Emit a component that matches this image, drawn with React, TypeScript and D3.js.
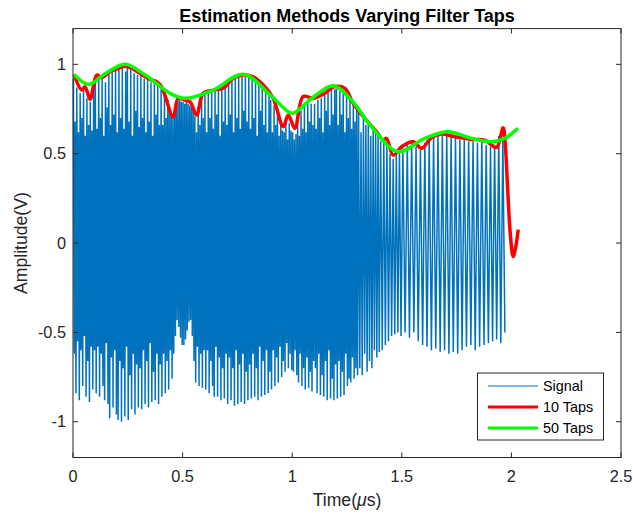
import React from "react";
import * as d3 from "d3";

// ---------- data ----------
const xTicks = [0, 0.5, 1, 1.5, 2, 2.5];
const yTicks = [-1, -0.5, 0, 0.5, 1];
const xDomain = [0, 2.5];
const yDomain = [-1.2, 1.2];

// Signal: carrier cycles grouped in 0.1 us segments; each entry is a cycle's peak / trough
const segmentStarts = [0, 0.1, 0.2, 0.3, 0.4, 0.5, 0.6, 0.7, 0.8, 0.9, 1.0, 1.1, 1.2, 1.3, 1.4, 1.5, 1.6, 1.7, 1.8, 1.9];
const signalEnd = 1.975;
const segmentPeaks: number[][] = [
  [0.92, 0.68, 0.87, 0.62, 0.84, 0.7, 0.86, 0.6, 0.81, 0.66, 0.79, 0.63, 0.89],
  [0.91, 0.64, 0.93, 0.7, 0.92, 0.6, 0.9, 0.76, 0.95, 0.66, 0.96, 0.72, 0.97],
  [0.62, 0.98, 0.7, 0.99, 0.64, 0.96, 0.99, 0.68, 0.97, 0.6, 0.95, 0.74, 0.94],
  [0.65, 0.94, 0.7, 0.92, 0.62, 0.93, 0.68, 0.9, 0.6, 0.91, 0.72, 0.89, 0.66],
  [0.86, 0.66, 0.84, 0.7, 0.8, 0.74, 0.72, 0.7, 0.74, 0.78, 0.79, 0.8, 0.79],
  [0.79, 0.78, 0.79, 0.78, 0.77, 0.76, 0.74, 0.71, 0.62, 0.76, 0.66, 0.82, 0.7],
  [0.84, 0.62, 0.85, 0.7, 0.86, 0.64, 0.85, 0.72, 0.86, 0.6, 0.87, 0.68, 0.88],
  [0.66, 0.89, 0.72, 0.91, 0.62, 0.92, 0.7, 0.93, 0.64, 0.94, 0.74, 0.93, 0.68],
  [0.93, 0.64, 0.92, 0.7, 0.9, 0.6, 0.89, 0.74, 0.87, 0.66, 0.85, 0.62, 0.83],
  [0.8, 0.62, 0.77, 0.66, 0.73, 0.6, 0.68, 0.63, 0.62, 0.69, 0.58, 0.67, 0.63],
  [0.62, 0.58, 0.61, 0.66, 0.6, 0.74, 0.64, 0.78, 0.62, 0.79, 0.68, 0.78, 0.66],
  [0.78, 0.64, 0.8, 0.7, 0.81, 0.62, 0.83, 0.74, 0.84, 0.66, 0.86, 0.72, 0.86],
  [0.86, 0.66, 0.85, 0.72, 0.84, 0.62, 0.82, 0.7, 0.8, 0.64, 0.78, 0.68, 0.75],
  [0.74, 0.62, 0.7, 0.66, 0.68, 0.6, 0.64, 0.62, 0.6],
  [0.57, 0.56, 0.55, 0.5, 0.47, 0.5, 0.52],
  [0.53, 0.55, 0.56, 0.54, 0.52],
  [0.56, 0.58, 0.6, 0.61, 0.6],
  [0.61, 0.6, 0.59, 0.58, 0.58],
  [0.57, 0.57, 0.56, 0.57, 0.55],
  [0.54, 0.55, 0.6, 0.58],
];
const segmentTroughs: number[][] = [
  [-0.62, -0.84, -0.55, -0.88, -0.6, -0.8, -0.52, -0.86, -0.66, -0.89, -0.58, -0.82, -0.6],
  [-0.84, -0.58, -0.86, -0.62, -0.8, -0.88, -0.56, -0.9, -0.98, -0.64, -0.92, -0.6, -0.96],
  [-0.99, -0.66, -1.0, -0.7, -0.97, -0.58, -0.99, -0.74, -0.93, -0.62, -0.96, -0.68, -0.92],
  [-0.7, -0.93, -0.6, -0.9, -0.66, -0.92, -0.56, -0.89, -0.72, -0.88, -0.62, -0.9, -0.68],
  [-0.86, -0.62, -0.84, -0.66, -0.82, -0.6, -0.76, -0.62, -0.52, -0.43, -0.47, -0.53, -0.57],
  [-0.57, -0.54, -0.49, -0.44, -0.43, -0.52, -0.66, -0.78, -0.58, -0.8, -0.62, -0.81, -0.6],
  [-0.82, -0.6, -0.84, -0.66, -0.8, -0.86, -0.58, -0.86, -0.64, -0.88, -0.7, -0.87, -0.62],
  [-0.9, -0.64, -0.88, -0.7, -0.91, -0.6, -0.9, -0.68, -0.89, -0.62, -0.9, -0.72, -0.88],
  [-0.68, -0.87, -0.62, -0.86, -0.7, -0.88, -0.58, -0.86, -0.66, -0.85, -0.6, -0.84, -0.72],
  [-0.82, -0.6, -0.8, -0.64, -0.78, -0.58, -0.75, -0.66, -0.72, -0.56, -0.7, -0.62, -0.71],
  [-0.72, -0.6, -0.74, -0.78, -0.62, -0.8, -0.7, -0.82, -0.64, -0.81, -0.72, -0.83, -0.66],
  [-0.7, -0.84, -0.62, -0.85, -0.74, -0.86, -0.66, -0.88, -0.6, -0.87, -0.76, -0.88, -0.68],
  [-0.87, -0.66, -0.86, -0.72, -0.85, -0.62, -0.8, -0.76, -0.78, -0.64, -0.76, -0.7, -0.74],
  [-0.7, -0.74, -0.62, -0.72, -0.66, -0.7, -0.6, -0.64, -0.61],
  [-0.6, -0.57, -0.55, -0.52, -0.51, -0.5, -0.52],
  [-0.5, -0.53, -0.5, -0.55, -0.57],
  [-0.58, -0.6, -0.59, -0.61, -0.6],
  [-0.62, -0.61, -0.62, -0.6, -0.58],
  [-0.57, -0.6, -0.58, -0.57, -0.56],
  [-0.55, -0.54, -0.56, -0.5],
];

// 10-tap estimate
const taps10T = [0.005, 0.04, 0.055, 0.078, 0.108, 0.131, 0.169, 0.207, 0.237, 0.268, 0.305, 0.359, 0.382, 0.404, 0.457, 0.48, 0.51, 0.534, 0.564, 0.594, 0.64, 0.685, 0.731, 0.777, 0.822, 0.868, 0.913, 0.959, 0.982, 1.012, 1.05, 1.096, 1.149, 1.19, 1.24, 1.278, 1.331, 1.385, 1.415, 1.43, 1.461, 1.499, 1.552, 1.59, 1.636, 1.681, 1.742, 1.818, 1.879, 1.932, 1.962, 1.972, 1.983, 1.995, 2.008, 2.02, 2.031];
const taps10V = [0.944, 0.856, 0.875, 0.804, 0.94, 0.927, 0.959, 0.978, 0.99, 0.978, 0.95, 0.912, 0.903, 0.875, 0.707, 0.81, 0.8, 0.79, 0.716, 0.838, 0.856, 0.866, 0.922, 0.94, 0.93, 0.884, 0.81, 0.651, 0.716, 0.642, 0.82, 0.81, 0.838, 0.875, 0.866, 0.782, 0.698, 0.623, 0.576, 0.586, 0.492, 0.539, 0.567, 0.53, 0.591, 0.61, 0.595, 0.58, 0.576, 0.535, 0.645, 0.55, 0.3, 0.05, -0.075, -0.02, 0.075];

// 50-tap estimate
const taps50T = [0.005, 0.07, 0.15, 0.237, 0.33, 0.442, 0.51, 0.64, 0.777, 0.9, 0.982, 1.005, 1.1, 1.187, 1.27, 1.362, 1.483, 1.605, 1.711, 1.818, 1.909, 1.97, 2.03];
const taps50V = [0.944, 0.888, 0.95, 1.0, 0.94, 0.838, 0.81, 0.856, 0.944, 0.828, 0.735, 0.726, 0.82, 0.88, 0.8, 0.651, 0.511, 0.586, 0.623, 0.586, 0.567, 0.586, 0.642];

const legendLabels = ["Signal", "10 Taps", "50 Taps"];

// ---------- layout ----------
const W = 633;
const H = 515;
const M = { left: 73, right: 621, top: 28.6, bottom: 457.5 };
const FONT = "'Liberation Sans', Arial, Helvetica, sans-serif";
const AX = "#262626";

export default function App() {
  const x = d3.scaleLinear().domain(xDomain).range([M.left, M.right]);
  const y = d3.scaleLinear().domain(yDomain).range([M.bottom, M.top]);

  const signalPts: [number, number][] = [];
  segmentStarts.forEach((t0, k) => {
    const t1 = k + 1 < segmentStarts.length ? segmentStarts[k + 1] : signalEnd;
    const n = segmentPeaks[k].length;
    const dt = (t1 - t0) / n;
    for (let j = 0; j < n; j++) {
      signalPts.push([t0 + (j + 0.25) * dt, segmentPeaks[k][j]]);
      signalPts.push([t0 + (j + 0.75) * dt, segmentTroughs[k][j]]);
    }
  });

  const lin = d3
    .line<[number, number]>()
    .x((d) => x(d[0]))
    .y((d) => y(d[1]));
  const smooth = d3
    .line<[number, number]>()
    .x((d) => x(d[0]))
    .y((d) => y(d[1]))
    .curve(d3.curveCatmullRom.alpha(0.5));

  const red: [number, number][] = taps10T.map((t, i) => [t, taps10V[i]]);
  const green: [number, number][] = taps50T.map((t, i) => [t, taps50V[i]]);

  const tickLen = 5;
  const legend = { x: 477.5, y: 373, w: 126, h: 67 };
  const legendColors = ["#0072BD", "#FF0000", "#00FF00"];
  const legendWidths = [1, 3, 3];
  const rowY = [386, 407, 428];

  return (
    <svg
      width={W}
      height={H}
      style={{ position: "absolute", left: 0, top: 0, background: "#fff" }}
      fontFamily={FONT}
    >
      <rect x={0} y={0} width={W} height={H} fill="#fff" />

      <path d={lin(signalPts) || ""} fill="none" stroke="#0072BD" strokeWidth={1.5} strokeLinejoin="bevel" />
      <path d={smooth(red) || ""} fill="none" stroke="#FF0000" strokeWidth={3.5} strokeLinejoin="round" />
      <path d={smooth(green) || ""} fill="none" stroke="#00FF00" strokeWidth={3.5} strokeLinejoin="round" />

      {/* axes box */}
      <rect
        x={M.left}
        y={M.top}
        width={M.right - M.left}
        height={M.bottom - M.top}
        fill="none"
        stroke={AX}
        strokeWidth={1}
      />
      {xTicks.map((t) => (
        <g key={"xt" + t}>
          <line x1={x(t)} x2={x(t)} y1={M.bottom} y2={M.bottom - tickLen} stroke={AX} />
          <line x1={x(t)} x2={x(t)} y1={M.top} y2={M.top + tickLen} stroke={AX} />
          <text x={x(t)} y={482} textAnchor="middle" fontSize={16.3} fill={AX}>
            {String(t)}
          </text>
        </g>
      ))}
      {yTicks.map((t) => (
        <g key={"yt" + t}>
          <line x1={M.left} x2={M.left + tickLen} y1={y(t)} y2={y(t)} stroke={AX} />
          <line x1={M.right} x2={M.right - tickLen} y1={y(t)} y2={y(t)} stroke={AX} />
          <text x={66} y={y(t) + 5.5} textAnchor="end" fontSize={16.3} fill={AX}>
            {String(t)}
          </text>
        </g>
      ))}

      <text x={(M.left + M.right) / 2} y={22} textAnchor="middle" fontSize={18} fontWeight="bold" fill="#000">
        Estimation Methods Varying Filter Taps
      </text>
      <text x={(M.left + M.right) / 2} y={506} textAnchor="middle" fontSize={17.6} fill={AX}>
        Time(<tspan fontStyle="italic">μ</tspan>s)
      </text>
      <text
        transform={`translate(27,${(M.top + M.bottom) / 2}) rotate(-90)`}
        textAnchor="middle"
        fontSize={17.6}
        fill={AX}
      >
        Amplitude(V)
      </text>

      {/* legend */}
      <rect x={legend.x} y={legend.y} width={legend.w} height={legend.h} fill="#fff" stroke={AX} strokeWidth={1} />
      {legendLabels.map((lab, i) => (
        <g key={lab}>
          <line x1={488} x2={538} y1={rowY[i]} y2={rowY[i]} stroke={legendColors[i]} strokeWidth={legendWidths[i]} />
          <text x={543} y={rowY[i] + 5} fontSize={14.4} fill="#000">
            {lab}
          </text>
        </g>
      ))}
    </svg>
  );
}
